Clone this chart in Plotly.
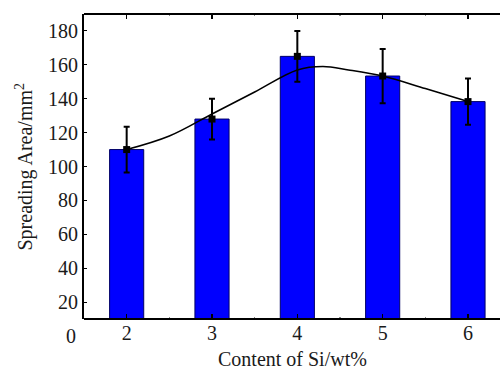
import plotly.graph_objects as go

si_content = [2, 3, 4, 5, 6]
spread_area = [110, 128, 165, 153.4, 138.3]
area_err = [13.5, 12, 15, 16, 13.6]

fit_x = [2, 2.5, 3, 3.5, 4, 4.3, 4.6, 5, 5.5, 6]
fit_y = [110, 118, 131, 144, 157, 159, 157, 153.4, 146, 138.3]

y_ticks = [20, 40, 60, 80, 100, 120, 140, 160, 180]
y_range = [10, 190]

font_family = "Liberation Serif, Times New Roman, serif"
txt_color = "#1a1a1a"

W, H = 500, 369
ML, MR, MT, MB = 84, 0, 14, 50
plot_h = H - MT - MB

fig = go.Figure()
fig.add_trace(go.Bar(
    x=si_content, y=spread_area, width=0.4,
    marker=dict(color="#0000FF", line=dict(color="#000066", width=1)),
    showlegend=False,
))
fig.add_trace(go.Scatter(
    x=fit_x, y=fit_y, mode="lines",
    line=dict(color="black", width=1.6, shape="spline", smoothing=1.0),
    showlegend=False,
))
fig.add_trace(go.Scatter(
    x=si_content, y=spread_area, mode="markers",
    marker=dict(symbol="square", size=7, color="black"),
    error_y=dict(type="data", array=area_err, color="black", thickness=2, width=3),
    showlegend=False,
))

# bottom and top frame lines
for yy in (0, 1):
    fig.add_shape(type="line", xref="paper", yref="paper", x0=0, x1=1, y0=yy, y1=yy,
                  line=dict(color="black", width=2))

zero_shift = -(y_range[0] - 0) / (y_range[1] - y_range[0]) * plot_h
fig.add_annotation(
    x=0, xref="paper", y=0, yref="paper", text="0", showarrow=False,
    xanchor="right", yanchor="middle", xshift=-6, yshift=zero_shift,
    font=dict(family=font_family, size=20, color=txt_color),
)
fig.add_annotation(
    x=0.5, xref="paper", y=0, yref="paper", text="Content of Si/wt%",
    showarrow=False, xanchor="center", yanchor="middle", yshift=-40,
    font=dict(family=font_family, size=20, color=txt_color),
)
fig.add_annotation(
    x=0, xref="paper", y=0.5, yref="paper", text="Spreading Area/mm<sup>2</sup>",
    showarrow=False, xanchor="center", yanchor="middle", xshift=-60,
    textangle=-90,
    font=dict(family=font_family, size=20, color=txt_color),
)

fig.update_layout(
    width=W, height=H,
    margin=dict(l=ML, r=MR, t=MT, b=MB, autoexpand=False),
    paper_bgcolor="white", plot_bgcolor="white",
    font=dict(family=font_family, size=20, color=txt_color),
    bargap=0, hovermode=False,
)
fig.update_xaxes(
    range=[1.5, 6.375], tickvals=si_content, ticks="inside", ticklen=5,
    tickwidth=1.5, tickcolor="black",
    minor=dict(dtick=0.5, tick0=0, ticks="inside", ticklen=2, tickcolor="#888"),
    showline=False, mirror="ticks",
    showgrid=False, zeroline=False, automargin=False,
    tickfont=dict(size=20),
)
fig.update_yaxes(
    range=y_range, tickvals=y_ticks, ticks="inside", ticklen=3,
    tickcolor="black",
    showline=True, linecolor="black", linewidth=2, mirror=False,
    showgrid=False, zeroline=False, automargin=False,
    tickfont=dict(size=20),
)

fig.write_html(
    "out.html",
    config={"staticPlot": True, "displayModeBar": False},
    post_script="document.body.style.margin='0';document.body.style.overflow='hidden';",
)
